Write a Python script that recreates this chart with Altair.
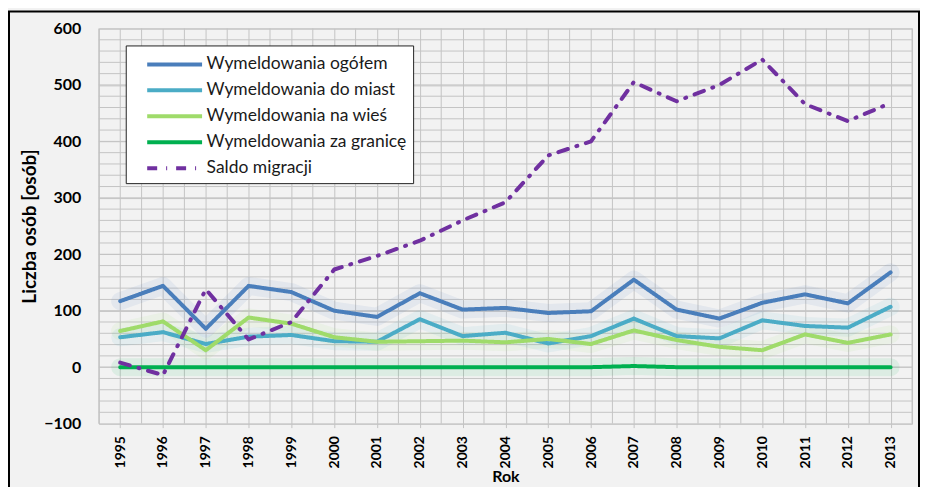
import altair as alt
import pandas as pd

years = list(range(1995, 2014))
series_names = ["Wymeldowania ogółem", "Wymeldowania do miast", "Wymeldowania na wieś",
                "Wymeldowania za granicę", "Saldo migracji"]
ogolem = [117, 144, 68, 144, 133, 100, 89, 131, 102, 105, 96, 99, 155, 102, 86, 114, 129, 113, 168]
do_miast = [53, 62, 41, 54, 57, 46, 45, 85, 55, 61, 42, 55, 86, 55, 51, 83, 73, 70, 107]
na_wies = [64, 81, 30, 88, 77, 53, 45, 46, 47, 44, 50, 41, 65, 48, 36, 30, 58, 43, 58]
za_granice = [0, 0, 0, 0, 0, 0, 0, 0, 0, 0, 0, 0, 2, 0, 0, 0, 0, 0, 0]
saldo = [8, -14, 138, 49, 80, 173, 197, 224, 260, 292, 375, 400, 505, 471, 500, 545, 466, 436, 468]
colors = ["#4a7ebb", "#4bacc6", "#9fdb6a", "#00b050", "#7030a0"]
dashes = [[1, 0], [1, 0], [1, 0], [1, 0], [10, 9, 1, 9]]
half_years = [1994.5 + i for i in range(20)]
y_minor = list(range(-80, 600, 20))
y_major = list(range(-100, 601, 100))

rows = []
for name, vals in zip(series_names, [ogolem, do_miast, na_wies, za_granice, saldo]):
    for y, v in zip(years, vals):
        rows.append({"Rok": y, "Seria": name, "Wartość": v})
df = pd.DataFrame(rows)

FONT = "Lato"
GRID = "#c4c4c4"
x_scale = alt.Scale(domain=[1994.5, 2013.5], nice=False, zero=False)
y_scale = alt.Scale(domain=[-100, 600], nice=False)

x_axis = alt.Axis(values=years, format="d", labelAngle=270, labelAlign="right",
                  labelBaseline="middle",
                  labelFont=FONT, labelFontSize=14, labelFontWeight="bold", labelColor="#000000",
                  labelPadding=8, ticks=True, tickSize=4, tickColor=GRID, domain=False, grid=True,
                  gridColor=GRID, gridWidth=1, labelOverlap=False,
                  title="Rok", titleFont=FONT, titleFontSize=16, titleFontWeight="bold",
                  titleColor="#000000", titlePadding=1)
y_axis = alt.Axis(values=y_major,
                  labelFont=FONT, labelFontSize=16, labelFontWeight="bold", labelColor="#000000",
                  labelPadding=18, ticks=False, domain=False, grid=True,
                  gridColor=GRID, gridWidth=1, labelOverlap=False,
                  title="Liczba osób [osób]", titleFont=FONT, titleFontSize=19,
                  titleFontWeight="bold", titleColor="#000000", titlePadding=4)

x = alt.X("Rok:Q", scale=x_scale, axis=x_axis)
y = alt.Y("Wartość:Q", scale=y_scale, axis=y_axis)

color_scale = alt.Scale(domain=series_names, range=colors)
legend = alt.Legend(title=None, orient="none", legendX=27, legendY=17,
                    symbolType="M-2.5,0H2.5", symbolSize=484, symbolStrokeWidth=4,
                    symbolOpacity=1, symbolOffset=30, symbolFillColor="transparent",
                    labelFont=FONT, labelFontSize=17.5, labelColor="#1a1a1a",
                    fillColor="#ffffff", strokeColor="#222222",
                    padding=6, rowPadding=4, labelOffset=19, labelLimit=400)
color = alt.Color("Seria:N", scale=color_scale, sort=series_names, legend=legend)

vgrid = alt.Chart(pd.DataFrame({"Rok": half_years})).mark_rule(color=GRID, strokeWidth=1).encode(x=x)
hgrid = alt.Chart(pd.DataFrame({"Wartość": y_minor})).mark_rule(color=GRID, strokeWidth=1).encode(y=y)

base = alt.Chart(df)

glow = base.transform_filter(alt.datum.Seria != "Saldo migracji").mark_line(
    strokeWidth=18, opacity=0.09, strokeCap="round", strokeJoin="round"
).encode(x=x, y=y, color=color)

lines = base.mark_line(strokeWidth=4, strokeCap="round", strokeJoin="round").encode(
    x=x, y=y, color=color,
    strokeDash=alt.StrokeDash("Seria:N", scale=alt.Scale(domain=series_names, range=dashes),
                              sort=series_names, legend=legend),
)

frame = alt.Chart(pd.DataFrame({"a": [0]})).mark_rect(
    fill=None, stroke="#000000", strokeWidth=2
).encode(x=alt.value(-90), x2=alt.value(822), y=alt.value(-17), y2=alt.value(490))

chart = alt.layer(vgrid, hgrid, glow, lines, frame).properties(
    width=815, height=396,
    autosize=alt.AutoSizeParams(type="none"),
    padding={"left": 91, "top": 20, "right": 8, "bottom": 63},
    background="#f2f2f2",
).configure_view(stroke="#bfbfbf", strokeWidth=1, fill="#f2f2f2")

chart.save("out.html", embed_options={"renderer": "svg", "actions": False})
